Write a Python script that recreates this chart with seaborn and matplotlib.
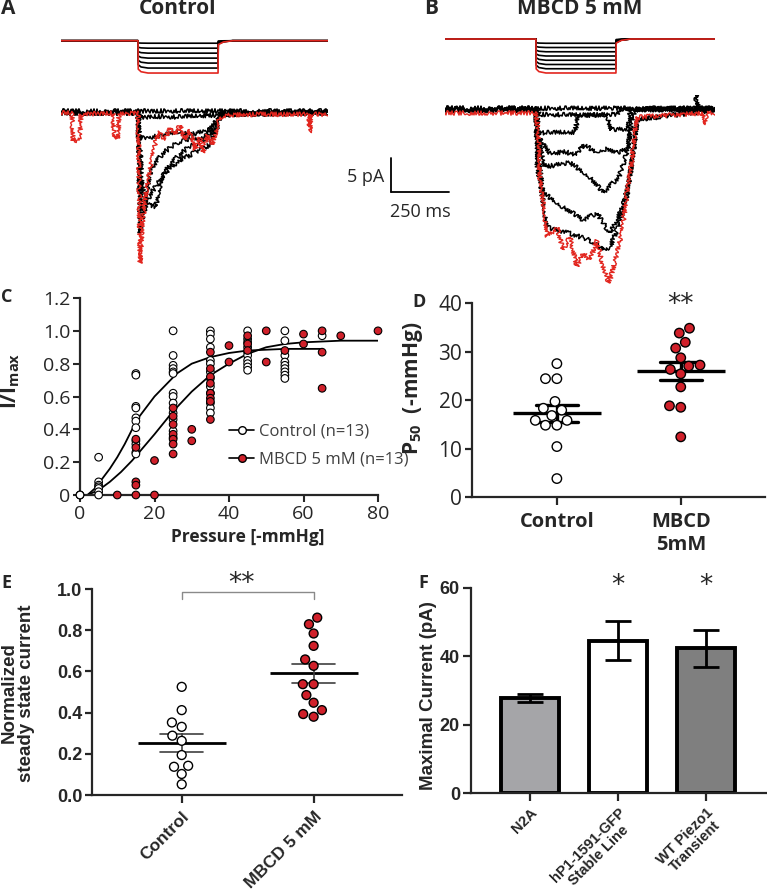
import numpy as np
import pandas as pd
import seaborn as sns
from matplotlib import pyplot as plt
from matplotlib.lines import Line2D

# ---------------------------------------------------------------
# A / B  pressure protocol (mmHg) and example current traces (ms, pA)
# ---------------------------------------------------------------
steps_A = [5, 15, 25, 35, 45, 55, 65]
steps_B = [10, 20, 30, 40, 50, 60, 70, 80]
stim_A_t = [0, 332, 333, 345, 375, 677, 678, 700, 740, 1151]
stim_B_t = [0, 392, 393, 405, 435, 737, 738, 760, 800, 1164]
stim_frac = [0, 0, 0.88, 0.96, 1.0, 1.0, 0.12, 0.04, 0, 0]

ctrl_red_t = [0, 47, 52, 60, 69, 82, 86, 224, 228, 237, 246, 250, 332, 336, 341, 349, 362, 375, 392, 409,
              427, 448, 470, 491, 513, 534, 556, 578, 599, 612, 629, 651, 672, 685, 728, 858, 1069, 1073,
              1078, 1151]
ctrl_red_i = [0, 0, -4.0, -3.7, -4.3, -3.4, -0.2, 0, -3.8, -3.4, -3.8, -0.2, 0, -9.9, -22.1, -17.2, -12.8,
              -9.9, -6.9, -4.0, -2.8, -4.0, -2.2, -3.2, -1.8, -4.0, -2.5, -5.4, -3.7, -5.9, -3.2, -4.7, -2.2,
              -0.6, -0.3, -0.2, -0.2, -2.9, -0.2, -0.2]
ctrl_blk_t = [
    [0, 1151],
    [0, 332, 345, 400, 500, 600, 680, 700, 1151],
    [0, 332, 340, 350, 420, 500, 560, 640, 690, 1151],
    [0, 332, 337, 341, 349, 362, 384, 427, 470, 513, 556, 599, 642, 677, 694, 1151],
    [0, 332, 338, 345, 362, 392, 440, 500, 560, 620, 670, 690, 1151],
    [0, 332, 340, 350, 375, 409, 430, 460, 500, 550, 620, 670, 690, 1151],
]
ctrl_blk_i = [
    [0.3, 0.3],
    [0.1, 0.1, -0.7, -0.5, -0.6, -0.4, -0.3, 0.1, 0.1],
    [0, 0, -3.5, -3.7, -3.4, -2.8, -3.2, -2.5, -0.3, 0],
    [0, 0, -8, -17.6, -16, -14, -12, -9.9, -8.1, -6.9, -6.2, -5.4, -4.7, -1.8, -0.2, 0],
    [0.1, 0.1, -7, -14.3, -12.5, -8, -5.9, -4.4, -3.8, -3.6, -1.5, -0.2, 0.1],
    [0, 0, -5, -11, -13.5, -13.8, -10, -8, -6.5, -5, -4, -2, -0.2, 0],
]

mbcd_red_t = [0, 392, 401, 409, 431, 440, 483, 509, 539, 569, 595, 625, 655, 681, 703, 707, 720, 741, 763,
              784, 806, 819, 832, 1115, 1121, 1127, 1164]
mbcd_red_i = [-0.3, -0.3, -2.8, -10.1, -15.6, -18.5, -17.1, -20.4, -18.5, -22.9, -20.9, -21.9, -19.0, -22.9,
              -24.9, -25.3, -23.8, -20.9, -17.9, -12.1, -7.2, -2.8, -0.9, -0.3, -2.0, -0.3, -0.3]
mbcd_blk_t = [
    [0, 1080, 1086, 1092, 1164],
    [0, 392, 410, 600, 740, 760, 1164],
    [0, 392, 405, 420, 560, 575, 700, 715, 790, 800, 1164],
    [0, 392, 405, 450, 520, 560, 600, 650, 700, 740, 790, 805, 1164],
    [0, 392, 400, 431, 539, 625, 681, 750, 784, 806, 825, 1164],
    [0, 392, 400, 422, 509, 595, 655, 711, 767, 797, 828, 1164],
    [0, 392, 398, 440, 539, 625, 681, 711, 746, 784, 815, 828, 1164],
]
mbcd_blk_i = [
    [0.4, 0.4, 2.8, 0.4, 0.4],
    [0.4, 0.4, -0.5, -0.6, -0.5, 0.3, 0.4],
    [0.3, 0.3, -3.0, -3.2, -3.1, -0.6, -0.6, -2.8, -2.6, 0.3, 0.3],
    [0.2, 0.2, -4.0, -6.2, -6.0, -6.5, -5.0, -6.0, -5.5, -6.2, -5.5, 0.2, 0.2],
    [0.2, 0.2, -4, -8.2, -7.6, -9.7, -12.0, -9.7, -6.2, -1.3, 0.2, 0.2],
    [0.3, 0.3, -6, -12, -14.1, -16, -15, -18, -14.1, -9.7, -1.3, 0.3],
    [0.1, 0.1, -8, -17.1, -18, -19, -20.4, -20, -17.1, -12.6, -5.3, -1.3, 0.1],
]
scalebar_ms = 250
scalebar_pa = 5

# ---------------------------------------------------------------
# C  I/Imax vs pressure
# ---------------------------------------------------------------
c_ctrl_p = ([0, 0, 0] + [5] * 7 + [15] * 11 + [25] * 13 + [35] * 13 + [45] * 10 + [55] * 9 + [65])
c_ctrl_v = ([0, 0, 0] +
            [0.23, 0.08, 0.06, 0.05, 0.04, 0.02, 0.0] +
            [0.74, 0.73, 0.54, 0.53, 0.47, 0.45, 0.41, 0.33, 0.31, 0.26, 0.25] +
            [1.0, 0.85, 0.79, 0.77, 0.75, 0.74, 0.62, 0.60, 0.56, 0.50, 0.46, 0.39, 0.35] +
            [1.0, 0.98, 0.95, 0.90, 0.82, 0.80, 0.75, 0.71, 0.66, 0.62, 0.56, 0.53, 0.50] +
            [1.0, 0.95, 0.93, 0.90, 0.87, 0.85, 0.82, 0.80, 0.78, 0.76] +
            [1.0, 0.94, 0.85, 0.81, 0.79, 0.77, 0.75, 0.73, 0.71] +
            [0.97])
c_mbcd_p = ([10] + [15] * 5 + [20] * 2 + [25] * 7 + [30] * 2 + [35] * 8 + [40] * 2 + [45] * 3 + [50] * 2 +
            [55] + [60] * 2 + [65] * 3 + [70] + [80])
c_mbcd_v = ([0] + [0.34, 0.29, 0.08, 0.06, 0.0] + [0.21, 0.0] +
            [0.53, 0.48, 0.43, 0.37, 0.34, 0.31, 0.25] + [0.40, 0.33] +
            [0.87, 0.77, 0.72, 0.68, 0.62, 0.59, 0.57, 0.46] + [0.91, 0.81] + [0.97, 0.92, 0.88] +
            [1.0, 0.81] + [0.88] + [0.98, 0.92] + [1.0, 0.87, 0.65] + [0.97] + [1.0])
fit_ctrl_p = [2, 4, 6, 8, 10, 12, 14, 16, 18, 20, 23, 26, 30, 35, 40, 45, 50, 55, 60, 65]
fit_ctrl_v = [0.0, 0.04, 0.10, 0.16, 0.23, 0.31, 0.40, 0.48, 0.54, 0.60, 0.67, 0.74, 0.80, 0.84, 0.865,
              0.88, 0.885, 0.89, 0.89, 0.89]
fit_mbcd_p = [2, 5, 8, 11, 14, 17, 20, 25, 30, 35, 40, 45, 50, 55, 60, 70, 80]
fit_mbcd_v = [0.0, 0.03, 0.08, 0.14, 0.21, 0.29, 0.37, 0.51, 0.63, 0.73, 0.80, 0.86, 0.90, 0.92, 0.93,
              0.94, 0.94]

# ---------------------------------------------------------------
# D  P50 per cell,  E  steady state current,  F  maximal current
# ---------------------------------------------------------------
groups_D = ['Control', 'MBCD\n5mM']
p50_ctrl = [27.5, 24.4, 24.4, 19.7, 18.3, 17.9, 16.8, 15.8, 14.8, 14.8, 15.8, 10.4, 3.8]
p50_mbcd = [34.8, 33.8, 31.9, 30.7, 28.7, 27.2, 27.0, 26.3, 25.4, 22.7, 18.8, 18.5, 12.4]

groups_E = ['Control', 'MBCD 5 mM']
ss_ctrl = [0.525, 0.412, 0.352, 0.331, 0.288, 0.263, 0.194, 0.142, 0.137, 0.102, 0.052]
ss_mbcd = [0.861, 0.829, 0.784, 0.724, 0.658, 0.627, 0.538, 0.538, 0.485, 0.448, 0.412, 0.393, 0.380]

groups_F = ['N2A', 'hP1-1591-GFP\nStable Line', 'WT Piezo1\nTransient']
imax_mean = [27.8, 44.6, 42.3]
imax_sem = [1.3, 5.7, 5.3]
bar_colors = ['#a4a4a9', '#ffffff', '#7f7f7f']

RED = '#d0202a'
TRACE_RED = '#e2261f'
W, H = 767, 893

sns.set_theme(style='ticks')
plt.rcParams['font.family'] = ['Open Sans', 'DejaVu Sans']
plt.rcParams['mathtext.fontset'] = 'custom'
plt.rcParams['mathtext.bf'] = 'Open Sans:bold'
plt.rcParams['mathtext.rm'] = 'Open Sans'
plt.rcParams['axes.linewidth'] = 1.6

fig = plt.figure(figsize=(W / 100, H / 100), dpi=100)


def px_axes(x0, y0, x1, y1):
    return fig.add_axes([x0 / W, 1 - y1 / H, (x1 - x0) / W, (y1 - y0) / H])


def draw_stim(ax, t, steps):
    for k, lev in enumerate(steps):
        col = TRACE_RED if k == len(steps) - 1 else 'black'
        p = [-lev * f for f in stim_frac]
        sns.lineplot(x=t, y=p, color=col, lw=1.2, estimator=None, sort=False, ax=ax)
    ax.axis('off')


def draw_traces(ax, blk_t, blk_i, red_t, red_i):
    for t, i in zip(blk_t, blk_i):
        sns.lineplot(x=t, y=i, color='black', lw=1.1, estimator=None, sort=False, ax=ax)
    sns.lineplot(x=red_t, y=red_i, color=TRACE_RED, lw=1.0, estimator=None, sort=False, ax=ax)
    # recording noise look
    for ln in ax.lines:
        ln.set_sketch_params(scale=2.2, length=1.5, randomness=2)
    ax.axis('off')


# ---- A ----
axAs = px_axes(61, 36, 328, 78)
draw_stim(axAs, stim_A_t, steps_A)
axAs.set_xlim(0, 1151)
axAs.set_ylim(-75, 9.5)

axAi = px_axes(61, 100, 328, 270)
draw_traces(axAi, ctrl_blk_t, ctrl_blk_i, ctrl_red_t, ctrl_red_i)
axAi.set_xlim(0, 1151)
axAi.set_ylim(-23.1, 1.9)

# ---- B ----
axBs = px_axes(445, 34, 715, 78)
draw_stim(axBs, stim_B_t, steps_B)
axBs.set_xlim(0, 1164)
axBs.set_ylim(-91.8, 11.8)

axBi = px_axes(445, 95, 715, 290)
draw_traces(axBi, mbcd_blk_t, mbcd_blk_i, mbcd_red_t, mbcd_red_i)
axBi.set_xlim(0, 1164)
axBi.set_ylim(-26.3, 2.35)

# scale bar, drawn left of the B trace
sb_t0, sb_i0 = -233, -11.9
axBi.plot([sb_t0, sb_t0 + scalebar_ms], [sb_i0, sb_i0], color='black', lw=1.3, clip_on=False)
axBi.plot([sb_t0, sb_t0], [sb_i0, sb_i0 + scalebar_pa], color='black', lw=1.3, clip_on=False)
axBi.text(sb_t0 - 30, sb_i0 + 2.2, f'{scalebar_pa} pA', ha='right', va='center', fontsize=13, clip_on=False)
axBi.text(sb_t0 + 125, sb_i0 - 3.0, f'{scalebar_ms} ms', ha='center', va='center', fontsize=13, clip_on=False)

for x, y, s, size in [(8, 9, 'A', 15), (431, 9, 'B', 15), (7, 297, 'C', 13), (419, 302, 'D', 13),
                      (6, 583, 'E', 13), (423, 583, 'F', 13)]:
    fig.text(x / W, 1 - y / H, s, fontsize=size, fontweight='bold', ha='center', va='center')
fig.text(178 / W, 1 - 9 / H, 'Control', fontsize=15, fontweight='bold', ha='center', va='center')
fig.text(580 / W, 1 - 9 / H, 'MBCD 5 mM', fontsize=15, fontweight='bold', ha='center', va='center')

# ---- C ----
axC = px_axes(80, 298, 378, 495)
dfC = pd.DataFrame({'p': c_ctrl_p + c_mbcd_p, 'v': c_ctrl_v + c_mbcd_v,
                    'g': ['Control'] * len(c_ctrl_p) + ['MBCD'] * len(c_mbcd_p)})
sns.lineplot(x=fit_ctrl_p, y=fit_ctrl_v, color='black', lw=1.3, ax=axC)
sns.lineplot(x=fit_mbcd_p, y=fit_mbcd_v, color='black', lw=1.3, ax=axC)
sns.scatterplot(data=dfC, x='p', y='v', hue='g', palette={'Control': 'white', 'MBCD': RED},
                edgecolor='black', linewidth=0.8, s=30, legend=False, ax=axC, clip_on=False, zorder=3)
axC.set_xlim(0, 80)
axC.set_ylim(0, 1.2)
axC.set_xticks([0, 20, 40, 60, 80])
axC.set_yticks([0, 0.2, 0.4, 0.6, 0.8, 1.0, 1.2])
axC.set_yticklabels(['0', '0.2', '0.4', '0.6', '0.8', '1.0', '1.2'])
axC.tick_params(labelsize=14, length=5, width=1.5, pad=2)
axC.set_xlabel('')
axC.set_ylabel('')
sns.despine(ax=axC)
fig.text(248 / W, 1 - 537 / H, 'Pressure [-mmHg]', fontsize=12.5, fontweight='bold', ha='center', va='center')
fig.text(11 / W, 1 - 381 / H, r'$\mathbf{I/I_{max}}$', fontsize=15, rotation=90, ha='center', va='center')
handles = [Line2D([], [], color='black', lw=1.2, marker='o', ms=5.5, mfc='white', mec='black'),
           Line2D([], [], color='black', lw=1.2, marker='o', ms=5.5, mfc=RED, mec='black')]
axC.legend(handles, ['Control (n=13)', 'MBCD 5 mM (n=13)'], loc='center left', bbox_to_anchor=(0.50, 0.25),
           frameon=False, fontsize=12, labelcolor='#404040', handlelength=1.5, handletextpad=0.3,
           labelspacing=0.7, borderpad=0, borderaxespad=0)

# ---- D ----
axD = px_axes(472, 303, 765, 497)
dfD = pd.DataFrame({'g': [groups_D[0]] * len(p50_ctrl) + [groups_D[1]] * len(p50_mbcd),
                    'v': p50_ctrl + p50_mbcd})
sns.swarmplot(data=dfD, x='g', y='v', hue='g', order=groups_D, palette=['white', RED], size=6.8,
              edgecolor='black', linewidth=1, legend=False, ax=axD, zorder=3)
sns.pointplot(data=dfD, x='g', y='v', order=groups_D, errorbar='se', color='black', marker='_',
              markersize=63, markeredgewidth=2.4, linestyle='none', capsize=0.34,
              err_kws={'linewidth': 2.4}, ax=axD)
axD.set_xlim(-0.685, 1.68)
axD.set_ylim(0, 40)
axD.set_yticks([0, 10, 20, 30, 40])
axD.set_xlabel('')
axD.set_ylabel('')
axD.tick_params(axis='y', labelsize=15, length=5, width=1.6, pad=2)
axD.tick_params(axis='x', labelsize=14.5, length=6, width=1.6, pad=5)
for lab in axD.get_xticklabels():
    lab.set_fontweight('bold')
sns.despine(ax=axD)
axD.text(1, 39.6, '**', ha='center', va='center', fontsize=19, family='DejaVu Sans', clip_on=False)
fig.text(413 / W, 1 - 388 / H, r'$\mathbf{P_{50}}$  (-mmHg)', fontsize=15, fontweight='bold',
         rotation=90, ha='center', va='center')

# ---- E ----
ARIAL = ['Liberation Sans', 'DejaVu Sans']
axE = px_axes(92, 589, 402, 795)
dfE = pd.DataFrame({'g': [groups_E[0]] * len(ss_ctrl) + [groups_E[1]] * len(ss_mbcd),
                    'v': ss_ctrl + ss_mbcd})
sns.swarmplot(data=dfE, x='g', y='v', hue='g', order=groups_E, palette=['white', RED], size=6.4,
              edgecolor='black', linewidth=1, legend=False, ax=axE, zorder=3)
sns.pointplot(data=dfE, x='g', y='v', order=groups_E, errorbar='se', color='black', marker='_',
              markersize=64, markeredgewidth=2.0, linestyle='none', capsize=0.33,
              err_kws={'linewidth': 1.2, 'color': '#404040'}, ax=axE)
axE.set_xlim(-0.68, 1.67)
axE.set_ylim(0, 1.0)
axE.set_yticks([0, 0.2, 0.4, 0.6, 0.8, 1.0])
axE.set_yticklabels(['0.0', '0.2', '0.4', '0.6', '0.8', '1.0'], family=ARIAL, fontweight='bold')
axE.set_xticks([0, 1])
axE.set_xticklabels(groups_E, rotation=45, ha='right', rotation_mode='anchor', family=ARIAL,
                    fontweight='bold')
axE.set_xlabel('')
axE.set_ylabel('')
axE.tick_params(axis='y', labelsize=13, length=5, width=1.6, pad=2)
axE.tick_params(axis='x', labelsize=12.5, length=6, width=1.6, pad=4)
sns.despine(ax=axE)
axE.plot([0, 0, 1, 1], [0.951, 0.985, 0.985, 0.951], color='#8a8a8a', lw=1.0, clip_on=False)
axE.text(0.45, 1.025, '**', ha='center', va='center', fontsize=19, family='DejaVu Sans', clip_on=False)
fig.text(18 / W, 1 - 693 / H, 'Normalized\nsteady state current', fontsize=13.5, fontweight='bold',
         family=ARIAL, rotation=90, ha='center', va='center', linespacing=1.0)

# ---- F ----
axF = px_axes(471, 588, 766, 793)
sns.barplot(x=groups_F, y=imax_mean, hue=groups_F, palette=bar_colors, edgecolor='black', linewidth=2.8,
            width=0.65, legend=False, ax=axF)
axF.errorbar(x=range(len(groups_F)), y=imax_mean, yerr=imax_sem, fmt='none', ecolor='black',
             elinewidth=2.0, capsize=9.5, capthick=2.0, zorder=5)
axF.set_xlim(-0.67, 2.68)
axF.set_ylim(0, 60)
axF.set_yticks([0, 20, 40, 60])
axF.set_yticklabels(['0', '20', '40', '60'], family=ARIAL, fontweight='bold')
axF.set_xticks([0, 1, 2])
axF.set_xticklabels(groups_F, rotation=45, ha='right', rotation_mode='anchor', family=ARIAL,
                    fontweight='bold', multialignment='center', linespacing=1.05)
axF.set_xlabel('')
axF.set_ylabel('')
axF.tick_params(axis='y', labelsize=13, length=6, width=1.6, pad=2)
axF.tick_params(axis='x', labelsize=10.5, length=6, width=1.6, pad=3)
sns.despine(ax=axF)
for k in [1, 2]:
    axF.text(k, 60.6, '*', ha='center', va='center', fontsize=19, family='DejaVu Sans', clip_on=False)
fig.text(429 / W, 1 - 696 / H, 'Maximal Current (pA)', fontsize=13.5, fontweight='bold', family=ARIAL,
         rotation=90, ha='center', va='center')

fig.savefig('out.png', dpi=100)
